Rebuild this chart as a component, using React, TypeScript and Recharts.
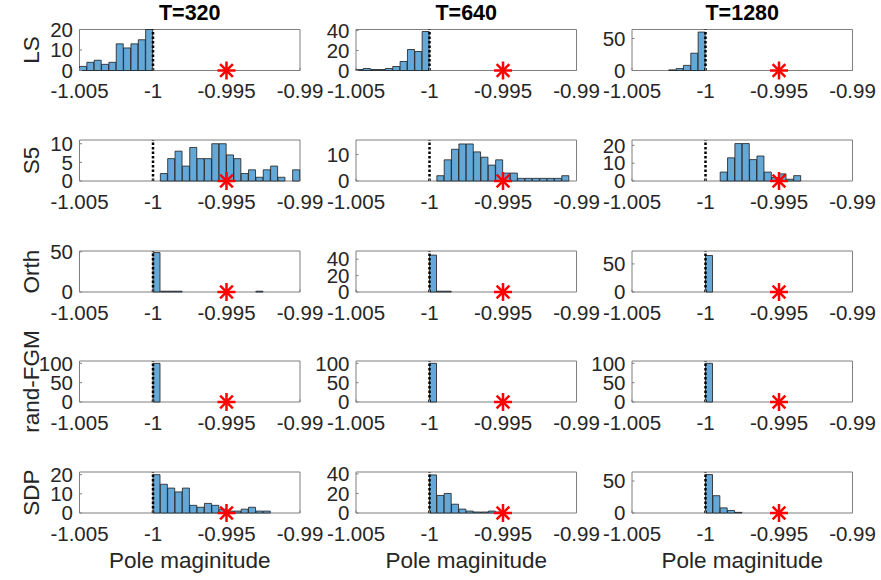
import React from 'react';
import { ComposedChart, Bar, XAxis, YAxis, ReferenceLine, ReferenceDot, ReferenceArea } from 'recharts';

// ---------- data ----------
const methods = ['LS', 'S5', 'Orth', 'rand-FGM', 'SDP'];
const horizons = ['T=320', 'T=640', 'T=1280'];
const xTicks = [-1.005, -1, -0.995, -0.99];
const xDomain: [number, number] = [-1.005, -0.99];
const BIN_WIDTH = 0.0005;
const binCenters = Array.from({ length: 30 }, (_, i) => +(xDomain[0] + BIN_WIDTH * (i + 0.5)).toFixed(6));
const truePole = -0.995;
const unitRoot = -1;
const xLabel = 'Pole maginitude';

// histogram counts per bin (30 bins of width 0.0005 spanning -1.005 .. -0.99)
const lsT320 = [2, 4, 5, 3, 4, 13, 11, 13, 15, 20, 0, 0, 0, 0, 0, 0, 0, 0, 0, 0, 0, 0, 0, 0, 0, 0, 0, 0, 0, 0];
const lsT640 = [1, 2, 1, 1, 2, 4, 9, 21, 19, 39, 0, 0, 0, 0, 0, 0, 0, 0, 0, 0, 0, 0, 0, 0, 0, 0, 0, 0, 0, 0];
const lsT1280 = [0, 0, 0, 0, 0, 1, 3, 8, 27, 60, 0, 0, 0, 0, 0, 0, 0, 0, 0, 0, 0, 0, 0, 0, 0, 0, 0, 0, 0, 0];
const s5T320 = [0, 0, 0, 0, 0, 0, 0, 0, 0, 0, 0, 2, 6, 8, 4, 9, 6, 6, 10, 10, 7, 6, 2, 3, 1, 3, 4, 1, 0, 3];
const s5T640 = [0, 0, 0, 0, 0, 0, 0, 0, 0, 0, 0, 2, 8, 12, 14, 14, 11, 9, 6, 8, 3, 3, 1, 1, 1, 1, 1, 1, 2, 0];
const s5T1280 = [0, 0, 0, 0, 0, 0, 0, 0, 0, 0, 0, 0, 5, 13, 21, 21, 12, 14, 5, 2, 4, 1, 3, 0, 0, 0, 0, 0, 0, 0];
const orthT320 = [0, 0, 0, 0, 0, 0, 0, 0, 0, 0, 49, 1, 1, 1, 0, 0, 0, 0, 0, 0, 0, 0, 0, 0, 1, 0, 0, 0, 0, 0];
const orthT640 = [0, 0, 0, 0, 0, 0, 0, 0, 0, 0, 45, 1, 1, 0, 0, 0, 0, 0, 0, 0, 0, 0, 0, 0, 0, 0, 0, 0, 0, 0];
const orthT1280 = [0, 0, 0, 0, 0, 0, 0, 0, 0, 0, 65, 0, 0, 0, 0, 0, 0, 0, 0, 0, 0, 0, 0, 0, 0, 0, 0, 0, 0, 0];
const fgmT320 = [0, 0, 0, 0, 0, 0, 0, 0, 0, 0, 100, 0, 0, 0, 0, 0, 0, 0, 0, 0, 0, 0, 0, 0, 0, 0, 0, 0, 0, 0];
const fgmT640 = [0, 0, 0, 0, 0, 0, 0, 0, 0, 0, 100, 0, 0, 0, 0, 0, 0, 0, 0, 0, 0, 0, 0, 0, 0, 0, 0, 0, 0, 0];
const fgmT1280 = [0, 0, 0, 0, 0, 0, 0, 0, 0, 0, 100, 0, 0, 0, 0, 0, 0, 0, 0, 0, 0, 0, 0, 0, 0, 0, 0, 0, 0, 0];
const sdpT320 = [0, 0, 0, 0, 0, 0, 0, 0, 0, 0, 20, 15, 13, 11, 13, 4, 3, 5, 4, 2, 1, 1, 2, 3, 1, 1, 0, 0, 0, 0];
const sdpT640 = [0, 0, 0, 0, 0, 0, 0, 0, 0, 0, 39, 18, 20, 9, 4, 2, 1, 1, 2, 1, 0, 0, 0, 0, 0, 0, 0, 0, 0, 0];
const sdpT1280 = [0, 0, 0, 0, 0, 0, 0, 0, 0, 0, 60, 27, 8, 4, 1, 0, 0, 0, 0, 0, 0, 0, 0, 0, 0, 0, 0, 0, 0, 0];

const counts = [
  [lsT320, lsT640, lsT1280],
  [s5T320, s5T640, s5T1280],
  [orthT320, orthT640, orthT1280],
  [fgmT320, fgmT640, fgmT1280],
  [sdpT320, sdpT640, sdpT1280],
];

const yMax = [
  [20, 41, 64],
  [11, 15.5, 23],
  [51, 50, 73],
  [106, 106, 106],
  [21.4, 42, 64],
];
const yTicks = [
  [[0, 10, 20], [0, 20, 40], [0, 50]],
  [[0, 5, 10], [0, 10], [0, 10, 20]],
  [[0, 50], [0, 20, 40], [0, 50]],
  [[0, 50, 100], [0, 50, 100], [0, 50, 100]],
  [[0, 10, 20], [0, 20, 40], [0, 50]],
];

// ---------- layout ----------
const COL_LEFT = [79.5, 355.8, 631.8];
const ROW_TOP = [29.5, 139.5, 250.5, 361, 472];
const PW = 220.5;
const PH = 41;
const TICK_FONT = 20.5;
const LABEL_FONT = 22.5;
const TEXT = '#262626';
const BOX = '#7f7f7f';
const FONT = '"Liberation Sans", Arial, Helvetica, sans-serif';

const Asterisk = (p: any) => {
  const { cx, cy } = p;
  const r = 9;
  const d = r * 0.7071;
  return (
    <g stroke="#ff0000" strokeWidth={2.5} strokeLinecap="butt">
      <line x1={cx - r} y1={cy} x2={cx + r} y2={cy} />
      <line x1={cx} y1={cy - r} x2={cx} y2={cy + r} />
      <line x1={cx - d} y1={cy - d} x2={cx + d} y2={cy + d} />
      <line x1={cx - d} y1={cy + d} x2={cx + d} y2={cy - d} />
    </g>
  );
};

const Panel = ({ r, c }: { r: number; c: number }) => {
  const data = binCenters.map((center, i) => ({ center, count: counts[r][c][i] }));
  const YW = c === 0 ? COL_LEFT[0] : 60;
  const MT = r === 0 ? ROW_TOP[0] : 60;
  const XH = r === 4 ? 70 : 40;
  const MR = 45;
  const width = YW + PW + MR;
  const height = MT + PH + XH;
  const left = COL_LEFT[c] - YW;
  const top = ROW_TOP[r] - MT;
  return (
    <div style={{ position: 'absolute', left, top, width, height }}>
      <ComposedChart
        width={width}
        height={height}
        data={data}
        margin={{ top: MT, right: MR, bottom: 0, left: 0 }}
        barCategoryGap={0}
        barGap={0}
        style={{ overflow: 'visible' }}
      >
        <XAxis
          dataKey="center"
          type="number"
          domain={xDomain}
          ticks={xTicks}
          interval={0}
          height={XH}
          tickLine={{ stroke: BOX }}
          tickSize={-2.5}
          tickMargin={15.5}
          axisLine={false}
          tickFormatter={(v: number) => String(v)}
          tick={{ fontSize: TICK_FONT, fill: TEXT, fontFamily: FONT }}
          label={
            r === 4
              ? {
                  content: (p: any) => {
                    const vb = p.viewBox;
                    return (
                      <text x={vb.x + vb.width / 2} y={vb.y + 55} textAnchor="middle" fontSize={LABEL_FONT} fill={TEXT} fontFamily={FONT}>
                        {xLabel}
                      </text>
                    );
                  },
                }
              : undefined
          }
        />
        <YAxis
          type="number"
          domain={[0, yMax[r][c]]}
          ticks={yTicks[r][c]}
          interval={0}
          width={YW}
          tickLine={{ stroke: BOX }}
          tickSize={-2.5}
          tickMargin={9}
          axisLine={false}
          tick={{ fontSize: TICK_FONT, fill: TEXT, fontFamily: FONT }}
          label={
            c === 0
              ? {
                  content: (p: any) => {
                    const vb = p.viewBox;
                    const cx = vb.x + 31;
                    const cy = vb.y + vb.height / 2;
                    return (
                      <text
                        x={cx}
                        y={cy}
                        transform={`rotate(-90 ${cx} ${cy})`}
                        textAnchor="middle"
                        dominantBaseline="central"
                        fontSize={LABEL_FONT}
                        fill={TEXT}
                        fontFamily={FONT}
                      >
                        {methods[r]}
                      </text>
                    );
                  },
                }
              : undefined
          }
        />
        <ReferenceArea
          x1={xDomain[0]}
          x2={xDomain[1]}
          y1={0}
          y2={yMax[r][c]}
          fill="none"
          fillOpacity={0}
          stroke={BOX}
          strokeWidth={1}
          ifOverflow="visible"
          label={
            r === 0
              ? {
                  content: (p: any) => {
                    const vb = p.viewBox;
                    return (
                      <text x={vb.x + vb.width / 2} y={vb.y - 10} textAnchor="middle" fontSize={21.5} fontWeight="bold" fill="#000" fontFamily={FONT}>
                        {horizons[c]}
                      </text>
                    );
                  },
                }
              : undefined
          }
        />
        <Bar dataKey="count" fill="#64a8d8" stroke="#1c1c1c" strokeWidth={0.8} isAnimationActive={false} />
        <ReferenceLine x={unitRoot} stroke="#000" strokeWidth={2.5} strokeDasharray="2.5 2" />
        <ReferenceDot x={truePole} y={0} r={9} shape={(p: any) => <Asterisk cx={p.cx} cy={p.cy} />} />
      </ComposedChart>
    </div>
  );
};

export default function App() {
  return (
    <div style={{ position: 'absolute', left: 0, top: 0, width: 881, height: 580, background: '#fff', fontFamily: FONT }}>
      {methods.map((_, r) => horizons.map((__, c) => <Panel key={`${r}-${c}`} r={r} c={c} />))}
    </div>
  );
}
